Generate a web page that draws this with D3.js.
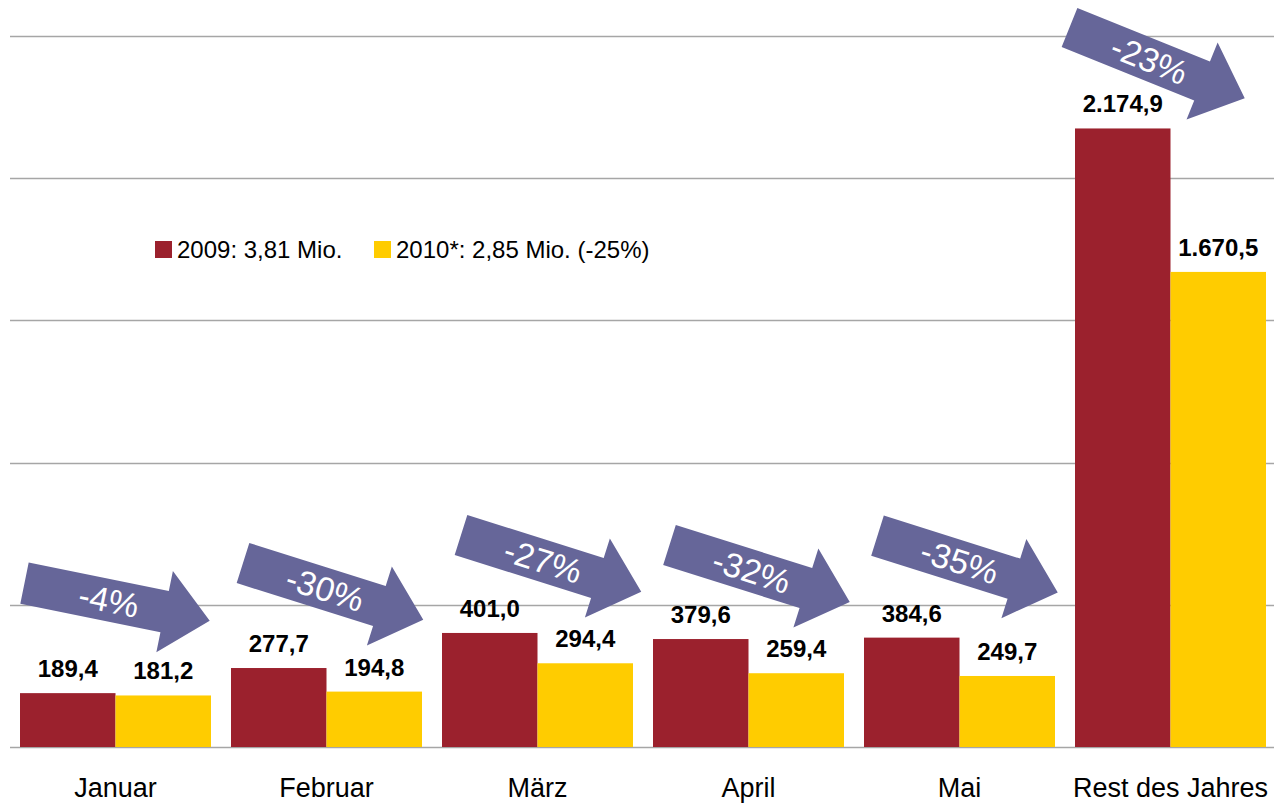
<!DOCTYPE html>
<html>
<head>
<meta charset="utf-8">
<script src="https://cdn.jsdelivr.net/npm/d3@7"></script>
<style>
  body { margin: 0; background: #fff; }
  svg { display: block; font-family: "Liberation Sans", Arial, sans-serif; }
</style>
</head>
<body>
<script>
// data
const months = ["Januar", "Februar", "März", "April", "Mai", "Rest des Jahres"];
const values2009 = [189.4, 277.7, 401.0, 379.6, 384.6, 2174.9];
const values2010 = [181.2, 194.8, 294.4, 259.4, 249.7, 1670.5];
const changes = ["-4%", "-30%", "-27%", "-32%", "-35%", "-23%"];
const legendLabels = ["2009: 3,81 Mio.", "2010*: 2,85 Mio. (-25%)"];
const yTicks = [0, 500, 1000, 1500, 2000, 2500];

const colors = ["#9B212D", "#FFCC00"];
const arrowColor = "#666699";
// arrow placement: offset of the tail from the 2009 bar's top-left corner, tilt in degrees
const arrowDx = [4.5, 12, 19, 16.5, 13.5, -5.5];
const arrowDy = [-110, -105, -98, -94, -102, -101];
const arrowAngles = [11.5, 17.5, 17.5, 17.5, 17.5, 22];

const width = 1274, height = 805;

const de = d3.formatLocale({ decimal: ",", thousands: ".", grouping: [3], currency: ["", "€"] });
const fmt = de.format(",.1f");

const svg = d3.select("body").append("svg")
    .attr("width", width)
    .attr("height", height);

const x = d3.scaleBand()
    .domain(months)
    .range([10, 1276])
    .paddingInner(20 / 211)
    .paddingOuter(10 / 211);

const x1 = d3.scaleBand()
    .domain([0, 1])
    .range([0, x.bandwidth()]);

const y = d3.scaleLinear()
    .domain([0, 2500])
    .range([747, 36]);

// gridlines
svg.append("g")
  .selectAll("line")
  .data(yTicks)
  .join("line")
    .attr("x1", 10)
    .attr("x2", width)
    .attr("y1", d => Math.round(y(d)) + 0.5)
    .attr("y2", d => Math.round(y(d)) + 0.5)
    .attr("stroke", "#A6A6A6")
    .attr("stroke-width", 1.5);

// bars
const groups = svg.append("g")
  .selectAll("g")
  .data(months.map((m, i) => ({ m, vals: [values2009[i], values2010[i]] })))
  .join("g")
    .attr("transform", d => `translate(${x(d.m)},0)`);

groups.selectAll("rect")
  .data(d => d.vals)
  .join("rect")
    .attr("x", (d, i) => x1(i))
    .attr("y", d => y(d))
    .attr("width", x1.bandwidth())
    .attr("height", d => y(0) - y(d))
    .attr("fill", (d, i) => colors[i]);

groups.selectAll("text")
  .data(d => d.vals)
  .join("text")
    .attr("x", (d, i) => x1(i) + x1.bandwidth() / 2)
    .attr("y", d => y(d) - 16)
    .attr("text-anchor", "middle")
    .attr("font-size", 24)
    .attr("font-weight", "bold")
    .attr("fill", "#000")
    .text(d => fmt(d));

// category axis labels
svg.append("g")
  .selectAll("text")
  .data(months)
  .join("text")
    .attr("x", d => x(d) + x.bandwidth() / 2)
    .attr("y", 797)
    .attr("text-anchor", "middle")
    .attr("font-size", 27)
    .attr("fill", "#000")
    .text(d => d);

// arrows with percentage change
const shaftLen = 143, shaftHalf = 21, headLen = 46, headHalf = 41.5;
const arrowPath = d3.path();
arrowPath.moveTo(0, -shaftHalf);
arrowPath.lineTo(shaftLen, -shaftHalf);
arrowPath.lineTo(shaftLen, -headHalf);
arrowPath.lineTo(shaftLen + headLen, 0);
arrowPath.lineTo(shaftLen, headHalf);
arrowPath.lineTo(shaftLen, shaftHalf);
arrowPath.lineTo(0, shaftHalf);
arrowPath.closePath();

const arrows = svg.append("g")
  .selectAll("g")
  .data(months.map((m, i) => ({ m, i, v: values2009[i], label: changes[i] })))
  .join("g")
    .attr("transform", d => {
      const tx = x(d.m) + arrowDx[d.i];
      const ty = y(d.v) + arrowDy[d.i];
      return `translate(${tx},${ty}) rotate(${arrowAngles[d.i]})`;
    });

arrows.append("path")
    .attr("d", arrowPath.toString())
    .attr("fill", arrowColor);

arrows.append("text")
    .attr("x", 86)
    .attr("y", 12)
    .attr("text-anchor", "middle")
    .attr("font-size", 34)
    .attr("fill", "#fff")
    .text(d => d.label);

// legend
const legend = svg.append("g")
  .selectAll("g")
  .data(legendLabels)
  .join("g")
    .attr("transform", (d, i) => `translate(${i === 0 ? 155 : 374},241)`);

legend.append("rect")
    .attr("width", 17)
    .attr("height", 17)
    .attr("fill", (d, i) => colors[i]);

legend.append("text")
    .attr("x", 22)
    .attr("y", 17)
    .attr("font-size", 24)
    .attr("fill", "#000")
    .text(d => d);
</script>
</body>
</html>
